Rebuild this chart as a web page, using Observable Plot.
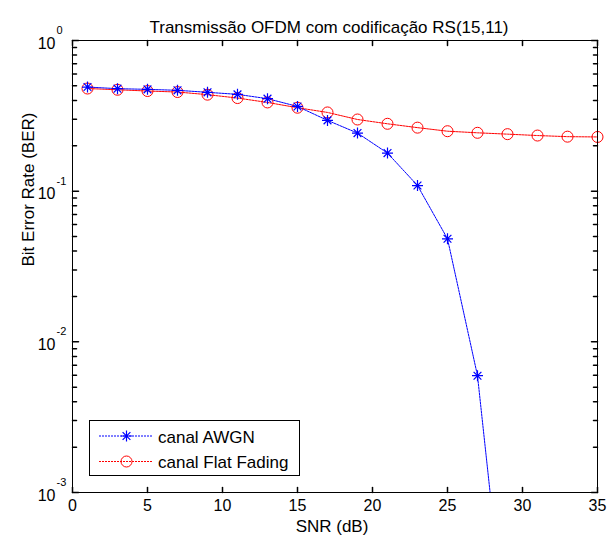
<!DOCTYPE html>
<html>
<head>
<meta charset="utf-8">
<script src="https://cdn.jsdelivr.net/npm/d3@7"></script>
<script src="https://cdn.jsdelivr.net/npm/@observablehq/plot@0.6"></script>
<style>
  html, body { margin: 0; padding: 0; background: #fff; }
  svg { display: block; }
</style>
</head>
<body>
<div id="chart"></div>
<script>
// ---- data ----
const titleText = "Transmissão OFDM com codificação RS(15,11)";
const xLabel = "SNR (dB)";
const yLabel = "Bit Error Rate (BER)";
const seriesNames = ["canal AWGN", "canal Flat Fading"];

const snrAwgn = [1, 3, 5, 7, 9, 11, 13, 15, 17, 19, 21, 23, 25, 27, 29];
const berAwgn = [0.491, 0.479, 0.474, 0.467, 0.453, 0.439, 0.411, 0.365, 0.295, 0.243, 0.179, 0.109, 0.0483, 0.00596, 0.000085];

const snrFlat = [1, 3, 5, 7, 9, 11, 13, 15, 17, 19, 21, 23, 25, 27, 29, 31, 33, 35];
const berFlat = [0.480, 0.471, 0.462, 0.455, 0.437, 0.415, 0.388, 0.358, 0.333, 0.299, 0.280, 0.264, 0.250, 0.244, 0.239, 0.234, 0.230, 0.229];

const xTicks = [0, 5, 10, 15, 20, 25, 30, 35];
const yTicks = [1e-3, 1e-2, 1e-1, 1];
const yTickExp = ["-3", "-2", "-1", "0"];
const yMinorTicks = [];
for (const d of [1e-3, 1e-2, 1e-1]) for (let m = 2; m <= 9; m++) yMinorTicks.push(m * d);

// ---- build ----
const awgn = snrAwgn.map((x, i) => ({x, y: berAwgn[i]}));
const flat = snrFlat.map((x, i) => ({x, y: berFlat[i]}));
const yMajor = yTicks.map((v, i) => ({v, e: yTickExp[i]}));

const FONT = "'Liberation Sans', Arial, Helvetica, sans-serif";
const tickShape = {draw(ctx, l) { ctx.moveTo(0, 0); ctx.lineTo(0, -l); }};
const star8 = {draw(ctx, size) {
  const r = Math.sqrt(size / Math.PI), d = r * Math.SQRT1_2;
  ctx.moveTo(-r, 0); ctx.lineTo(r, 0);
  ctx.moveTo(0, -r); ctx.lineTo(0, r);
  ctx.moveTo(-d, -d); ctx.lineTo(d, d);
  ctx.moveTo(-d, d); ctx.lineTo(d, -d);
}};

const blue = "#0000ff", red = "#ff0000";

const chart = Plot.plot({
  width: 607,
  height: 538,
  marginLeft: 72,
  marginRight: 10,
  marginTop: 40,
  marginBottom: 46,
  style: {fontFamily: FONT, background: "#fff", color: "#000"},
  x: {domain: [0, 35], axis: null},
  y: {type: "log", domain: [1e-3, 1], axis: null},
  marks: [
    // series
    Plot.line(flat, {x: "x", y: "y", stroke: red, strokeWidth: 1, strokeDasharray: "2,1"}),
    Plot.line(awgn, {x: "x", y: "y", stroke: blue, strokeWidth: 1, strokeDasharray: "2,1", clip: true}),
    Plot.dot(flat, {x: "x", y: "y", r: 5.5, stroke: red, fill: "none", strokeWidth: 1}),
    Plot.dot(awgn, {x: "x", y: "y", r: 5.5, symbol: star8, stroke: blue, fill: "none", strokeWidth: 1.2, clip: true}),
    // frame
    Plot.frame({stroke: "#000", strokeWidth: 1}),
    // x ticks (bottom & top, inward)
    Plot.vector(xTicks, {x: d => d, frameAnchor: "bottom", length: 5, rotate: 0, anchor: "start", shape: tickShape, stroke: "#000"}),
    Plot.vector(xTicks, {x: d => d, frameAnchor: "top", length: 5, rotate: 180, anchor: "start", shape: tickShape, stroke: "#000"}),
    // y ticks (left & right, inward)
    Plot.vector(yTicks, {y: d => d, frameAnchor: "left", length: 6, rotate: 90, anchor: "start", shape: tickShape, stroke: "#000"}),
    Plot.vector(yTicks, {y: d => d, frameAnchor: "right", length: 6, rotate: -90, anchor: "start", shape: tickShape, stroke: "#000"}),
    Plot.vector(yMinorTicks, {y: d => d, frameAnchor: "left", length: 4, rotate: 90, anchor: "start", shape: tickShape, stroke: "#000"}),
    Plot.vector(yMinorTicks, {y: d => d, frameAnchor: "right", length: 4, rotate: -90, anchor: "start", shape: tickShape, stroke: "#000"}),
    // x tick labels
    Plot.text(xTicks, {x: d => d, frameAnchor: "bottom", text: d => String(d), dy: 18, fontSize: 16, fill: "#000"}),
    // y tick labels 10^k
    Plot.text(yMajor, {y: "v", frameAnchor: "left", text: () => "10", textAnchor: "end", dx: -17, dy: 3, fontSize: 16, fill: "#000"}),
    Plot.text(yMajor, {y: "v", frameAnchor: "left", text: "e", textAnchor: "start", dx: -16, dy: -10, fontSize: 11, fill: "#000"}),
    // axis labels & title
    Plot.text([xLabel], {frameAnchor: "bottom", text: d => d, dx: -3, dy: 39.6, fontSize: 17, fill: "#000"}),
    Plot.text([yLabel], {frameAnchor: "left", text: d => d, rotate: -90, dx: -44, fontSize: 17, fill: "#000"}),
    Plot.text([titleText], {frameAnchor: "top", text: d => d, dx: -6, dy: -19.6, fontSize: 17, fill: "#000"})
  ]
});

// ---- legend (inside axes, lower-left) ----
const svg = d3.select(chart);
const lg = svg.append("g").attr("font-family", FONT).attr("font-size", 17).attr("text-anchor", "start");
lg.append("rect").attr("x", 89.5).attr("y", 420.5).attr("width", 210).attr("height", 55)
  .attr("fill", "#fff").attr("stroke", "#000").attr("stroke-width", 1);
const entries = [
  {name: seriesNames[0], color: blue, sym: star8, y: 436},
  {name: seriesNames[1], color: red, sym: d3.symbolCircle, y: 461.5}
];
for (const e of entries) {
  lg.append("line").attr("x1", 99).attr("x2", 153).attr("y1", e.y).attr("y2", e.y)
    .attr("stroke", e.color).attr("stroke-width", 1).attr("stroke-dasharray", "2,1");
  lg.append("path").attr("transform", `translate(126.5,${e.y})`)
    .attr("d", d3.symbol(e.sym, Math.PI * 5.5 * 5.5)())
    .attr("fill", "none").attr("stroke", e.color).attr("stroke-width", e.sym === star8 ? 1.2 : 1);
  lg.append("text").attr("x", 158).attr("y", e.y + 6.5).attr("text-anchor", "start")
    .attr("font-size", 17).attr("fill", "#000").text(e.name);
}

document.getElementById("chart").appendChild(chart);
</script>
</body>
</html>
